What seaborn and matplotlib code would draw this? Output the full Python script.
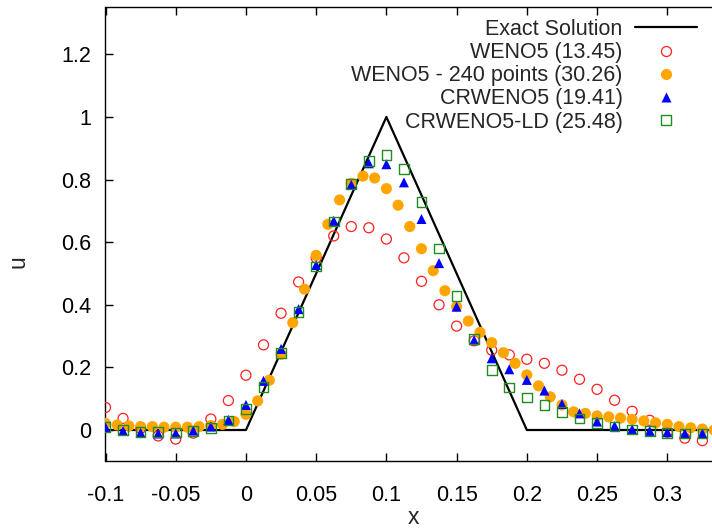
import numpy as np
import pandas as pd
import matplotlib
matplotlib.use("Agg")
import matplotlib.pyplot as plt
from matplotlib.lines import Line2D
from matplotlib.ticker import FuncFormatter
import seaborn as sns

# ---------------- data ----------------
exact_x = [-0.1, 0.0, 0.1, 0.2, 0.35]
exact_u = [0.0, 0.0, 1.0, 0.0, 0.0]

x80 = [-0.1, -0.0875, -0.075, -0.0625, -0.05, -0.0375, -0.025, -0.0125,
       0.0, 0.0125, 0.025, 0.0375, 0.05, 0.0625, 0.075, 0.0875,
       0.1, 0.1125, 0.125, 0.1375, 0.15, 0.1625, 0.175, 0.1875,
       0.2, 0.2125, 0.225, 0.2375, 0.25, 0.2625, 0.275, 0.2875,
       0.3, 0.3125, 0.325]

weno5 = [0.072, 0.037, 0.005, -0.019, -0.029, -0.010, 0.035, 0.094,
         0.175, 0.272, 0.373, 0.473, 0.550, 0.620, 0.650, 0.646,
         0.610, 0.550, 0.475, 0.400, 0.332, 0.285, 0.255, 0.240,
         0.226, 0.213, 0.191, 0.162, 0.130, 0.095, 0.060, 0.031,
         -0.007, -0.026, -0.034]

crweno5 = [0.009, -0.003, -0.009, -0.011, -0.011, -0.002, 0.011, 0.032,
           0.080, 0.157, 0.259, 0.386, 0.527, 0.668, 0.783, 0.852,
           0.849, 0.791, 0.674, 0.533, 0.394, 0.287, 0.229, 0.194,
           0.160, 0.126, 0.083, 0.053, 0.027, 0.013, 0.002, -0.003,
           -0.007, -0.011, -0.011]

crweno5_ld = [0.009, 0.000, -0.007, -0.007, -0.008, -0.003, 0.007, 0.030,
              0.068, 0.138, 0.245, 0.376, 0.522, 0.666, 0.785, 0.859,
              0.879, 0.833, 0.728, 0.580, 0.428, 0.290, 0.192, 0.136,
              0.104, 0.080, 0.057, 0.037, 0.023, 0.011, 0.002, -0.003,
              -0.009, -0.011, -0.011]

x240 = [k / 120.0 for k in range(-12, 41)]
weno5_240 = [0.021, 0.016, 0.013, 0.011, 0.011, 0.009, 0.009, 0.009, 0.011, 0.014,
             0.018, 0.027, 0.050, 0.093, 0.159, 0.242, 0.343, 0.450, 0.558, 0.657,
             0.735, 0.788, 0.811, 0.805, 0.771, 0.718, 0.650, 0.579, 0.509, 0.445,
             0.394, 0.348, 0.312, 0.279, 0.247, 0.213, 0.176, 0.141, 0.106, 0.080,
             0.058, 0.053, 0.045, 0.042, 0.038, 0.034, 0.029, 0.023, 0.018, 0.011,
             0.007, 0.003, 0.000]

labels = ["Exact Solution", "WENO5 (13.45)", "WENO5 - 240 points (30.26)",
          "CRWENO5 (19.41)", "CRWENO5-LD (25.48)"]

xticks = [-0.1, -0.05, 0, 0.05, 0.1, 0.15, 0.2, 0.25, 0.3]
yticks = [0, 0.2, 0.4, 0.6, 0.8, 1.0, 1.2]

# ---------------- style ----------------
sns.set_style("ticks")
plt.rcParams['font.family'] = ['Liberation Sans', 'DejaVu Sans']
FS = 15.5

W, H = 712, 529
fig = plt.figure(figsize=(W / 100, H / 100), dpi=100)
L, R, T, B = 105.5, 737.5, 7.4, 461.3
ax = fig.add_axes([L / W, (H - B) / H, (R - L) / W, (B - T) / H])

red = "#ff2020"
orange = "#ffa500"
blue = "#0000ff"
green = "#228b22"

df_exact = pd.DataFrame({"x": exact_x, "u": exact_u})
sns.lineplot(data=df_exact, x="x", y="u", ax=ax, color="black", lw=1.6,
             sort=False, estimator=None)

df80 = pd.DataFrame({"x": x80, "weno5": weno5, "cr": crweno5, "ld": crweno5_ld})
df240 = pd.DataFrame({"x": x240, "u": weno5_240})

sns.scatterplot(data=df80, x="x", y="weno5", ax=ax, marker="o", s=52,
                facecolors="none", edgecolor=red, linewidth=0.9, zorder=3)
sns.scatterplot(data=df240, x="x", y="u", ax=ax, marker="o", s=64,
                color=orange, edgecolor="none", linewidth=0, zorder=4)
sns.scatterplot(data=df80, x="x", y="cr", ax=ax, marker="^", s=52,
                color=blue, edgecolor="none", linewidth=0, zorder=5)
sns.scatterplot(data=df80, x="x", y="ld", ax=ax, marker="s", s=48,
                facecolors="none", edgecolor=green, linewidth=1.0, zorder=6)

ax.set_xlim(-0.1, 0.35)
ax.set_ylim(-0.1, 1.35)
ax.set_xticks(xticks)
ax.set_yticks(yticks)
fmt = FuncFormatter(lambda v, p: "%g" % round(v, 4))
ax.xaxis.set_major_formatter(fmt)
ax.yaxis.set_major_formatter(fmt)
ax.tick_params(direction="in", length=6, width=1, top=True, right=True,
               labelsize=FS, colors="black")
ax.tick_params(axis="x", pad=17)
ax.tick_params(axis="y", pad=10)
for s in ax.spines.values():
    s.set_visible(True)
    s.set_linewidth(1.0)
    s.set_color("black")

ax.set_xlabel("x", fontsize=FS + 1)
ax.set_ylabel("u", fontsize=FS + 1)
ax.xaxis.set_label_coords((413 - L) / (R - L), (B - 518) / (B - T))
ax.yaxis.set_label_coords((18 - L) / (R - L), (B - 262) / (B - T))
ax.xaxis.label.set_va("center")
ax.yaxis.label.set_va("center")

handles = [
    Line2D([], [], color="black", lw=1.6),
    Line2D([], [], ls="", marker="o", ms=7.2, mfc="none", mec=red, mew=0.9),
    Line2D([], [], ls="", marker="o", ms=8, mfc=orange, mec="none"),
    Line2D([], [], ls="", marker="^", ms=7.2, mfc=blue, mec="none"),
    Line2D([], [], ls="", marker="s", ms=7, mfc="none", mec=green, mew=1.0),
]
leg = ax.legend(handles, labels, loc="upper right", markerfirst=False,
                frameon=False, fontsize=FS, handlelength=2.9,
                handletextpad=0.55, labelspacing=0.1, borderpad=0,
                borderaxespad=0,
                bbox_to_anchor=(697 / W, (H - 19) / H),
                bbox_transform=fig.transFigure)

fig.savefig("out.png", dpi=100)
